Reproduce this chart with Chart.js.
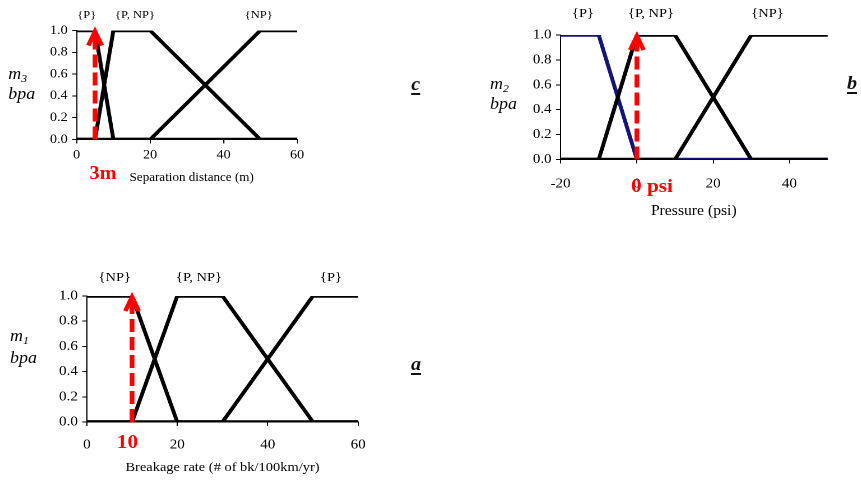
<!DOCTYPE html>
<html>
<head>
<meta charset="utf-8">
<script src="https://cdn.jsdelivr.net/npm/chart.js@4.4.1/dist/chart.umd.min.js"></script>
<style>
  html, body { margin: 0; padding: 0; background: #fff; }
  body { width: 861px; height: 485px; overflow: hidden; position: relative; }
  /* the source figure is stretched sideways, so the whole stage is too */
  #stage { position: absolute; left: 0; top: 0; height: 485px;
           transform-origin: 0 0;
           font-family: "Liberation Serif", "Times New Roman", serif; color: #000; }
  .box { position: absolute; }
  .txt { position: absolute; white-space: nowrap; line-height: 1; }
  .mid { transform: translate(-50%, -50%); }
  .lft { transform: translate(0, -50%); }
  .tag { font-style: italic; font-weight: bold; font-size: 18px; text-decoration: underline;
         text-decoration-thickness: 2px; text-underline-offset: 3px; color: #111; }
  .bpa { font-style: italic; font-size: 16px; }
  .bpa sub { font-size: 10.5px; vertical-align: -3px; }
  .red { color: #ff0000; font-weight: bold; }
</style>
</head>
<body>
<div id="stage">
  <div class="box" id="boxC"><canvas id="chartC"></canvas></div>
  <div class="box" id="boxB"><canvas id="chartB"></canvas></div>
  <div class="box" id="boxA"><canvas id="chartA"></canvas></div>
</div>
<script>
// ---- data ----
const yTicks = [0, 0.2, 0.4, 0.6, 0.8, 1.0];

// c: separation distance (m)
const sepTicks = [0, 20, 40, 60];
const sepP   = [[0, 1], [5, 1], [10, 0], [60, 0]];
const sepPNP = [[0, 0], [5, 0], [10, 1], [20, 1], [50, 0], [60, 0]];
const sepNP  = [[0, 0], [20, 0], [50, 1], [60, 1]];
const sepArrow = 5;

// b: pressure (psi)
const presTicks = [-20, 0, 20, 40];
const presP   = [[-20, 1], [-10, 1], [0, 0], [50, 0]];
const presPNP = [[-20, 0], [-10, 0], [0, 1], [10, 1], [30, 0], [50, 0]];
const presNP  = [[-20, 0], [10, 0], [30, 1], [50, 1]];
const presArrow = 0;

// a: breakage rate
const brkTicks = [0, 20, 40, 60];
const brkNP  = [[0, 1], [10, 1], [20, 0], [60, 0]];
const brkPNP = [[0, 0], [10, 0], [20, 1], [30, 1], [50, 0], [60, 0]];
const brkP   = [[0, 0], [30, 0], [50, 1], [60, 1]];
const brkArrow = 10;

const S = 1.12;
const Y_W = 40;
const FAMILY = "'Liberation Serif', 'Times New Roman', serif";
const RED = '#ff0000';
const stage = document.getElementById('stage');
stage.style.width = (861 / S) + 'px';
stage.style.transform = 'scaleX(' + S + ')';

// open chevron on top of the red dashed arrow
const arrowHead = {
  id: 'arrowHead',
  afterDatasetsDraw(chart, args, opts) {
    const x = chart.scales.x.getPixelForValue(opts.at);
    const y = chart.scales.y.getPixelForValue(1);
    const ctx = chart.ctx;
    ctx.save();
    ctx.strokeStyle = RED;
    ctx.lineWidth = 4;
    ctx.lineJoin = 'miter';
    ctx.beginPath();
    ctx.moveTo(x - 6, y + 15);
    ctx.lineTo(x, y + 1);
    ctx.lineTo(x + 6, y + 15);
    ctx.stroke();
    ctx.restore();
  }
};

function toXY(pts) {
  return pts.map(p => ({ x: p[0], y: p[1] }));
}

// box and area are in page pixels
function buildChart(id, boxId, o) {
  const b = o.box, a = o.area;
  const boxEl = document.getElementById(boxId);
  boxEl.style.left = (b.left / S) + 'px';
  boxEl.style.top = b.top + 'px';
  boxEl.style.width = (b.width / S) + 'px';
  boxEl.style.height = b.height + 'px';
  const pad = {
    left: (a.left - b.left) / S - Y_W,
    right: (b.left + b.width - a.right) / S,
    top: a.top - b.top,
    bottom: b.top + b.height - a.bottom - o.xH
  };

  const datasets = o.series.map(s => ({
    data: toXY(s.pts),
    borderColor: s.color,
    borderWidth: 3.5,
    borderJoinStyle: 'miter',
    pointRadius: 0,
    tension: 0,
    fill: false,
    order: s.order
  }));
  datasets.push({
    data: [{ x: o.arrow, y: 0 }, { x: o.arrow, y: 1 }],
    borderColor: RED,
    borderWidth: 4.2,
    borderDash: [13, 5],
    pointRadius: 0,
    fill: false,
    order: 0
  });

  const axisGrid = { display: true, drawOnChartArea: false, drawTicks: true, tickLength: 4, color: '#000', lineWidth: 1 };
  const axisBorder = { display: true, color: '#000', width: 1 };

  return new Chart(document.getElementById(id), {
    type: 'line',
    data: { datasets: datasets },
    options: {
      responsive: true,
      maintainAspectRatio: false,
      animation: false,
      devicePixelRatio: 2,
      events: [],
      layout: { padding: pad },
      plugins: {
        legend: { display: false },
        tooltip: { enabled: false },
        arrowHead: { at: o.arrow }
      },
      scales: {
        x: {
          type: 'linear',
          min: o.xMin,
          max: o.xMax,
          afterBuildTicks: sc => { sc.ticks = o.xTicks.map(v => ({ value: v })); },
          afterFit: sc => { sc.height = o.xH; },
          grid: axisGrid,
          border: axisBorder,
          ticks: {
            color: '#000', autoSkip: false, maxRotation: 0,
            padding: o.xPad,
            font: { family: FAMILY, size: o.font },
            callback: v => String(v)
          }
        },
        y: {
          min: 0,
          max: 1,
          afterBuildTicks: sc => { sc.ticks = yTicks.map(v => ({ value: v })); },
          afterFit: sc => { sc.width = Y_W; },
          grid: axisGrid,
          border: axisBorder,
          ticks: {
            color: '#000', padding: 4,
            font: { family: FAMILY, size: o.font },
            callback: v => Number(v).toFixed(1)
          }
        }
      }
    },
    plugins: [arrowHead]
  });
}

buildChart('chartC', 'boxC', {
  series: [
    { pts: sepP, color: '#000', order: 1 },
    { pts: sepPNP, color: '#000', order: 1 },
    { pts: sepNP, color: '#000', order: 1 }
  ],
  arrow: sepArrow, xMin: 0, xMax: 60, xTicks: sepTicks,
  font: 12.6, xPad: 4, xH: 30,
  box: { left: 0, top: 0, width: 312, height: 190 },
  area: { left: 76.5, right: 296.5, top: 30.5, bottom: 139.5 }
});

buildChart('chartB', 'boxB', {
  series: [
    { pts: presP, color: '#141478', order: 2 },
    { pts: presPNP, color: '#000', order: 1 },
    { pts: presNP, color: '#000', order: 1 }
  ],
  arrow: presArrow, xMin: -20, xMax: 50, xTicks: presTicks,
  font: 13.4, xPad: 12.5, xH: 35,
  box: { left: 490, top: 0, width: 371, height: 230 },
  area: { left: 560, right: 827, top: 35, bottom: 159.5 }
});

buildChart('chartA', 'boxA', {
  series: [
    { pts: brkNP, color: '#000', order: 1 },
    { pts: brkPNP, color: '#000', order: 1 },
    { pts: brkP, color: '#000', order: 1 }
  ],
  arrow: brkArrow, xMin: 0, xMax: 60, xTicks: brkTicks,
  font: 13.4, xPad: 11, xH: 35,
  box: { left: 0, top: 255, width: 430, height: 230 },
  area: { left: 86.7, right: 357.7, top: 296, bottom: 422 }
});

// ---- text around the plots (page coordinates, converted into the stretched stage) ----
function addText(html, x, y, cls, size) {
  const el = document.createElement('div');
  el.className = 'txt ' + cls;
  el.innerHTML = html;
  el.style.left = (x / S) + 'px';
  el.style.top = y + 'px';
  if (size) el.style.fontSize = size + 'px';
  stage.appendChild(el);
}

// c
addText('{P}', 86.7, 15, 'mid', 11.2);
addText('{P, NP}', 135, 15, 'mid', 11.2);
addText('{NP}', 258.8, 15, 'mid', 11.2);
addText('<i>m</i><sub>3</sub>', 8.3, 75, 'lft bpa');
addText('bpa', 8.3, 94, 'lft bpa');
addText('Separation distance (m)', 191.7, 178, 'mid', 11.7);
addText('3m', 103, 173, 'mid red', 18);
addText('c', 415.7, 84, 'mid tag');

// b
addText('{P}', 583, 12.5, 'mid', 12.9);
addText('{P, NP}', 651, 12.5, 'mid', 12.9);
addText('{NP}', 767.5, 12.5, 'mid', 12.9);
addText('<i>m</i><sub>2</sub>', 490, 85, 'lft bpa');
addText('bpa', 490, 104, 'lft bpa');
addText('Pressure (psi)', 693.8, 211, 'mid', 14);
addText('0 psi', 652, 184.5, 'mid red', 19);
addText('b', 852, 83, 'mid tag');

// a
addText('{NP}', 114.7, 276.7, 'mid', 12.9);
addText('{P, NP}', 199, 276.7, 'mid', 12.9);
addText('{P}', 331, 276.7, 'mid', 12.9);
addText('<i>m</i><sub>1</sub>', 10, 337, 'lft bpa');
addText('bpa', 10, 358, 'lft bpa');
addText('Breakage rate (# of bk/100km/yr)', 222.5, 467, 'mid', 12.9);
addText('10', 127.5, 441, 'mid red', 19);
addText('a', 416, 364, 'mid tag');
</script>
</body>
</html>
